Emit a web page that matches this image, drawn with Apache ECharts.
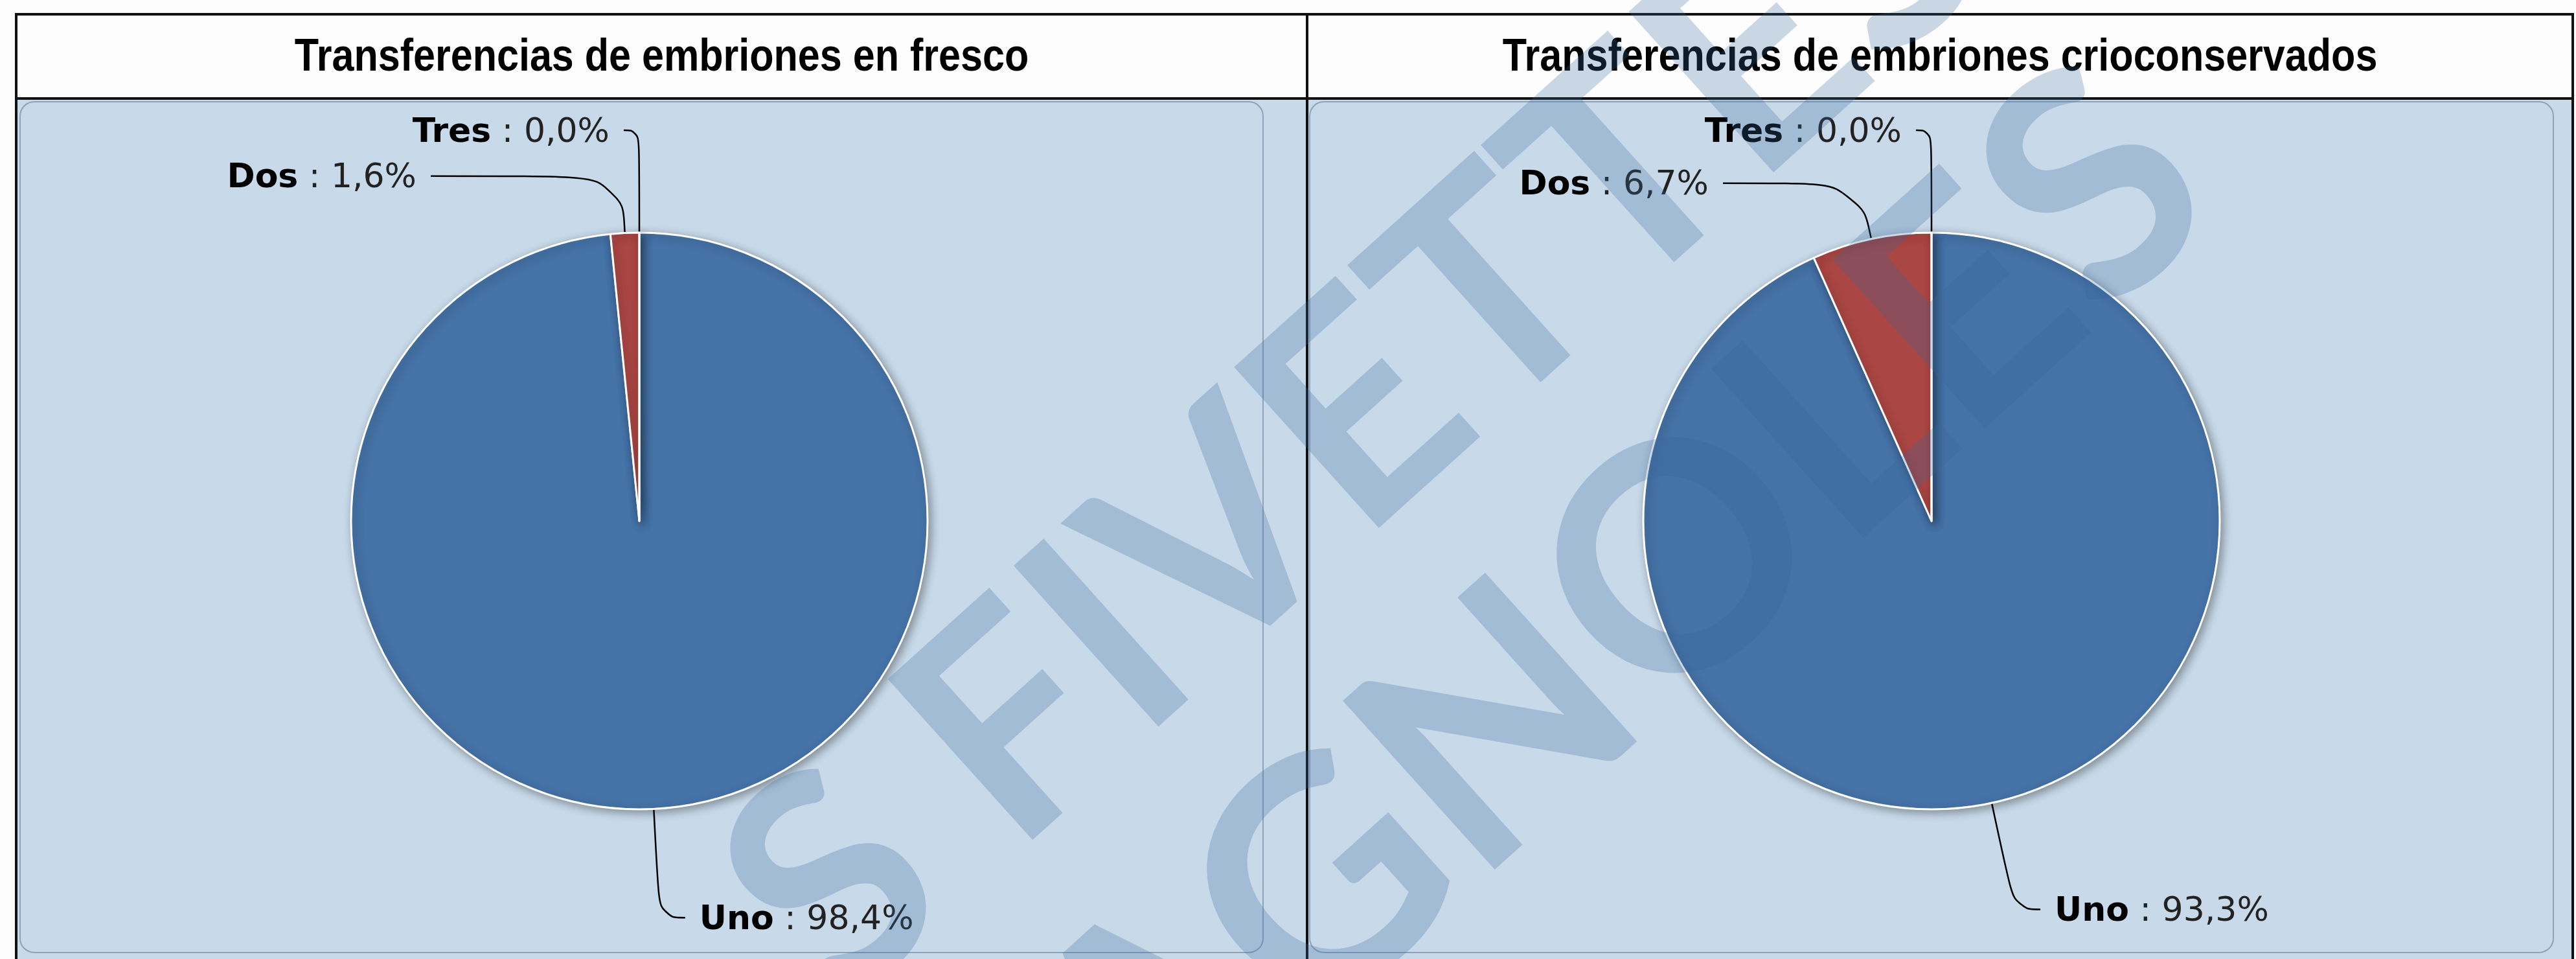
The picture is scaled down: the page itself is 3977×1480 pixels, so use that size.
<!DOCTYPE html>
<html>
<head>
<meta charset="utf-8">
<title>Transferencias de embriones</title>
<script src="https://cdn.jsdelivr.net/npm/echarts@6/dist/echarts.min.js"></script>
<style>
  html, body { margin: 0; padding: 0; background: #fdfdfd; }
  #transfer-echarts { width: 3977px; height: 1480px; }
</style>
</head>
<body>
<div id="transfer-echarts"></div>
<script>
// data
var categories = ['Uno', 'Dos', 'Tres'];
var frescoValues = [98.4, 1.6, 0.0];
var crioValues = [93.3, 6.7, 0.0];
var chartTitles = ['Transferencias de embriones en fresco', 'Transferencias de embriones crioconservados'];
var watermarkLines = ['S FIVETTES', 'ESPAGNOLES'];

var myChart = echarts.init(document.getElementById('transfer-echarts'));

// frame layout
var frameL = 25, frameT = 22, frameR = 3972, headBottom = 152, divider = 2018;
var pieR = 445;
var pieCenters = [[987, 804], [2982, 804]];

// label connectors: radial part, then horizontal part (run) or end x relative to centre (toX)
var elbows = [
  {len: 168, run: 40, side: 1},
  {len: 88, toX: -322, side: -1},
  {len: 158, toX: -24, side: -1}
];

function fmt(v) {
  return v.toFixed(1).replace('.', ',');
}

function makeLabelLayout(center, values) {
  var total = values.reduce(function (a, b) { return a + b; }, 0);
  return function (params) {
    var i = params.dataIndex;
    var cx = center[0], cy = center[1];
    var p0 = params.labelLinePoints && params.labelLinePoints[0];
    if (!p0) {
      var before = 0;
      for (var k = 0; k < i; k++) before += values[k];
      var a = (before + values[i] / 2) / total * Math.PI * 2;
      p0 = [cx + pieR * Math.sin(a), cy - pieR * Math.cos(a)];
    }
    var dx = p0[0] - cx, dy = p0[1] - cy;
    var d = Math.sqrt(dx * dx + dy * dy) || 1;
    var e = elbows[i];
    var p1 = [p0[0] + dx / d * e.len, p0[1] + dy / d * e.len];
    var p2x = e.toX != null ? cx + e.toX : p1[0] + e.side * e.run;
    return {
      x: p2x + e.side * 22,
      y: p1[1] + 4,
      align: e.side < 0 ? 'right' : 'left',
      verticalAlign: 'middle',
      labelLinePoints: [[p0[0], p0[1]], p1, [p2x, p1[1]]]
    };
  };
}

function pieSeries(center, values) {
  return {
    type: 'pie',
    center: center,
    radius: pieR,
    startAngle: 90,
    clockwise: true,
    avoidLabelOverlap: false,
    animation: false,
    silent: true,
    data: categories.map(function (c, i) {
      return {name: c, value: values[i]};
    }),
    itemStyle: {
      borderColor: '#ffffff',
      borderWidth: 3,
      shadowBlur: 14,
      shadowOffsetX: 4,
      shadowOffsetY: 4,
      shadowColor: 'rgba(0,0,0,0.35)'
    },
    label: {
      show: true,
      position: 'outside',
      fontFamily: 'DejaVu Sans',
      fontSize: 52,
      formatter: function (p) {
        return '{n|' + p.name + '}{v| : ' + fmt(p.value) + '%}';
      },
      rich: {
        n: {fontFamily: 'DejaVu Sans', fontSize: 52, fontWeight: 'bold', color: '#000000'},
        v: {fontFamily: 'DejaVu Sans', fontSize: 52, color: '#222222'}
      }
    },
    labelLine: {
      show: true,
      smooth: 0.5,
      lineStyle: {color: '#000000', width: 2.5}
    },
    labelLayout: makeLabelLayout(center, values)
  };
}

var rot = 42 * Math.PI / 180;
var wmColor = 'rgba(56,105,160,0.26)';

var option = {
  backgroundColor: '#fdfdfd',
  animation: false,
  color: ['#4572A7', '#AA4643', '#89A54E'],
  graphic: {
    elements: [
      {type: 'rect', z: -20, shape: {x: frameL, y: headBottom, width: frameR - frameL, height: 1400},
        style: {fill: '#c8d9e9'}},
      {type: 'rect', z: -20, shape: {x: frameL, y: frameT, width: frameR - frameL, height: headBottom - frameT},
        style: {fill: '#fdfdfd'}},
      {type: 'rect', z: -15, shape: {x: 31, y: 157, width: 1919, height: 1313, r: 22},
        style: {fill: 'none', stroke: '#8ea3ba', lineWidth: 2}},
      {type: 'rect', z: -15, shape: {x: divider + 4, y: 157, width: 1920, height: 1313, r: 22},
        style: {fill: 'none', stroke: '#8ea3ba', lineWidth: 2}},
      {type: 'rect', z: -10, shape: {x: frameL, y: frameT, width: frameR - frameL, height: 1600},
        style: {fill: 'none', stroke: '#111111', lineWidth: 4}},
      {type: 'line', z: -10, shape: {x1: frameL, y1: headBottom, x2: frameR, y2: headBottom},
        style: {stroke: '#111111', lineWidth: 4}},
      {type: 'line', z: -10, shape: {x1: divider, y1: frameT, x2: divider, y2: 1600},
        style: {stroke: '#111111', lineWidth: 4}},
      {type: 'text', z: 5, x: (frameL + divider) / 2, y: (frameT + headBottom) / 2 + 2, scaleX: 0.86,
        style: {text: chartTitles[0], x: 0, y: 0, align: 'center', verticalAlign: 'middle',
          fontFamily: 'Liberation Sans', fontWeight: 'bold', fontSize: 71, fill: '#000000'}},
      {type: 'text', z: 5, x: (divider + frameR) / 2, y: (frameT + headBottom) / 2 + 2, scaleX: 0.86,
        style: {text: chartTitles[1], x: 0, y: 0, align: 'center', verticalAlign: 'middle',
          fontFamily: 'Liberation Sans', fontWeight: 'bold', fontSize: 71, fill: '#000000'}},
      // watermark
      {type: 'text', z: 100, x: 1195, y: 1455, rotation: rot,
        style: {text: watermarkLines[0], x: 0, y: 0, align: 'left', verticalAlign: 'middle',
          fontFamily: 'Lato', fontWeight: 'bold', fontSize: 462, fill: wmColor}},
      {type: 'text', z: 100, x: 1060, y: 2255, rotation: rot,
        style: {text: watermarkLines[1], x: 0, y: 0, align: 'left', verticalAlign: 'middle',
          fontFamily: 'Lato', fontWeight: 'bold', fontSize: 485, fill: wmColor}}
    ]
  },
  series: [
    pieSeries(pieCenters[0], frescoValues),
    pieSeries(pieCenters[1], crioValues)
  ]
};
myChart.setOption(option);
</script>
</body>
</html>
